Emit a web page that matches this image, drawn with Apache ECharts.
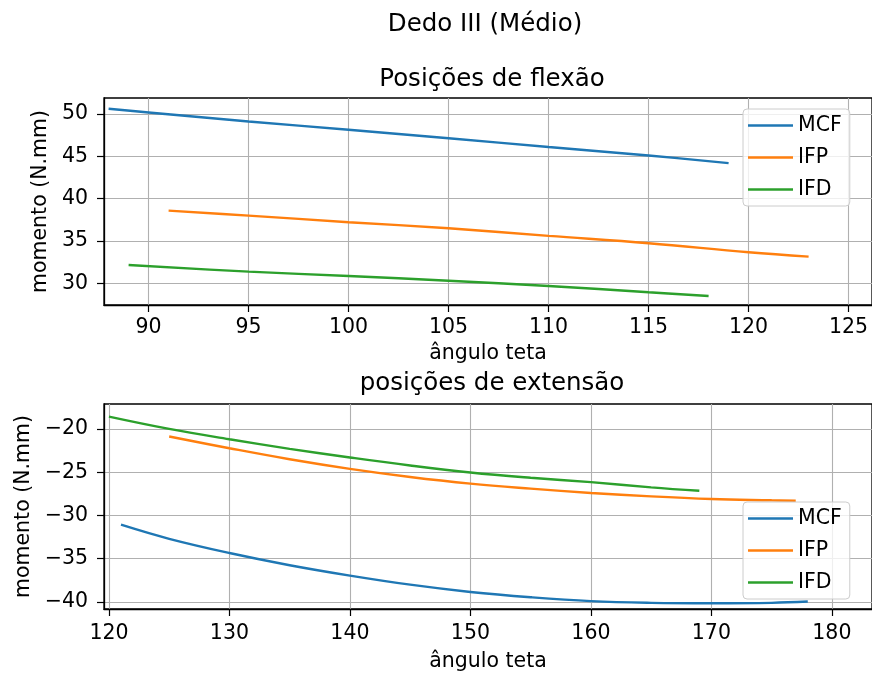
<!DOCTYPE html>
<html>
<head>
<meta charset="utf-8">
<script src="https://cdn.jsdelivr.net/npm/echarts@6/dist/echarts.min.js"></script>
<style>
html,body{margin:0;padding:0;background:#fff;}
#chart{width:872px;height:677px;}
</style>
</head>
<body>
<div id="chart"></div>
<script>
// ---- Data ----
const seriesNames = ['MCF', 'IFP', 'IFD'];

// Top: Posições de flexão
const flexMcfX = [88, 90, 95, 100, 105, 110, 115, 119];
const flexMcfY = [50.63, 50.19, 49.13, 48.14, 47.14, 46.1, 45.1, 44.2];
const flexIfpX = [91, 95, 100, 105, 110, 115, 120, 123];
const flexIfpY = [38.59, 38.0, 37.22, 36.5, 35.6, 34.73, 33.67, 33.15];
const flexIfdX = [89, 95, 100, 105, 110, 115, 118];
const flexIfdY = [32.16, 31.37, 30.86, 30.3, 29.68, 28.93, 28.5];

// Bottom: posições de extensão
const extMcfX = [121, 125, 130, 135, 140, 145, 150, 155, 160, 165, 170, 175, 178];
const extMcfY = [-31.07, -32.7, -34.34, -35.75, -36.95, -38.0, -38.84, -39.45, -39.9, -40.1, -40.15, -40.1, -39.95];
const extIfpX = [125, 130, 135, 140, 145, 150, 155, 160, 165, 170, 175, 177];
const extIfpY = [-20.88, -22.23, -23.5, -24.61, -25.55, -26.32, -26.9, -27.4, -27.8, -28.1, -28.25, -28.3];
const extIfdX = [120, 125, 130, 135, 140, 145, 150, 155, 160, 165, 169];
const extIfdY = [-18.58, -20.0, -21.19, -22.3, -23.3, -24.23, -25.04, -25.65, -26.15, -26.75, -27.15];

// Tick labels
const flexXTicks = [90, 95, 100, 105, 110, 115, 120, 125];
const flexYTicks = [30, 35, 40, 45, 50];
const extXTicks = [120, 130, 140, 150, 160, 170, 180];
const extYTicks = [-40, -35, -30, -25, -20];

// ---- Chart ----
const colors = ['#1f77b4', '#ff7f0e', '#2ca02c'];
const FONT = 'DejaVu Sans';
const TICK = 20.5;
const TITLE = 24.5;

function pairs(xs, ys) { return xs.map((x, i) => [x, ys[i]]); }
function fmt(v) { return String(v).replace('-', '\u2212'); }

function xAxis(gridIndex, min, max, ticks, margin) {
  return {
    type: 'value', gridIndex, min, max,
    name: 'ângulo teta', nameLocation: 'middle', nameGap: gridIndex === 0 ? 38 : 42,
    nameTextStyle: { fontFamily: FONT, fontSize: TICK, color: '#000' },
    axisLine: { show: true, onZero: false, lineStyle: { color: '#000', width: 1.3 } },
    axisTick: { show: true, inside: false, length: 7, customValues: ticks, lineStyle: { color: '#000', width: 1.2 } },
    axisLabel: { customValues: ticks, margin, fontFamily: FONT, fontSize: TICK, color: '#000', formatter: fmt },
    splitLine: { show: true, lineStyle: { color: '#b0b0b0', width: 1.1 } }
  };
}
function yAxis(gridIndex, min, max, ticks, nameGap) {
  return {
    type: 'value', gridIndex, min, max,
    name: 'momento (N.mm)', nameLocation: 'middle', nameGap, nameRotate: 90,
    nameTextStyle: { fontFamily: FONT, fontSize: TICK, color: '#000' },
    axisLine: { show: true, onZero: false, lineStyle: { color: '#000', width: 1.3 } },
    axisTick: { show: true, inside: false, length: 7, customValues: ticks, lineStyle: { color: '#000', width: 1.2 } },
    axisLabel: { customValues: ticks, margin: 16, fontFamily: FONT, fontSize: TICK, color: '#000', formatter: fmt },
    splitLine: { show: true, lineStyle: { color: '#b0b0b0', width: 1.1 } }
  };
}
function line(name, data, xi, yi) {
  return {
    type: 'line', name, data, xAxisIndex: xi, yAxisIndex: yi,
    symbol: 'none', smooth: 0.4, animation: false,
    lineStyle: { width: 2.4, color: colors[seriesNames.indexOf(name)] },
    itemStyle: { color: colors[seriesNames.indexOf(name)] }
  };
}
function legend(top) {
  return {
    left: 743, top, orient: 'vertical',
    data: seriesNames,
    icon: 'rect', itemWidth: 45, itemHeight: 2.6, itemGap: 11, itemTextGap: 17,
    padding: [6, 8, 6, 5],
    backgroundColor: 'rgba(255,255,255,0.8)', borderColor: '#cccccc', borderWidth: 1, borderRadius: 4,
    textStyle: { fontFamily: FONT, fontSize: TICK, color: '#000' }
  };
}

const chart = echarts.init(document.getElementById('chart'), null, { renderer: 'canvas' });
chart.setOption({
  animation: false,
  backgroundColor: '#fff',
  title: [
    { text: 'Dedo III (Médio)', left: 485, top: 12, textAlign: 'center', padding: 0,
      textStyle: { fontFamily: FONT, fontSize: TITLE, fontWeight: 'normal', color: '#000' } },
    { text: 'Posições de flexão', left: 492, top: 67, textAlign: 'center', padding: 0,
      textStyle: { fontFamily: FONT, fontSize: TITLE, fontWeight: 'normal', color: '#000' } },
    { text: 'posições de extensão', left: 492, top: 371, textAlign: 'center', padding: 0,
      textStyle: { fontFamily: FONT, fontSize: TITLE, fontWeight: 'normal', color: '#000' } }
  ],
  grid: [
    { left: 104, top: 98, width: 770, height: 207, show: true, borderColor: '#000', borderWidth: 1.3, backgroundColor: 'transparent' },
    { left: 104, top: 404, width: 770, height: 205, show: true, borderColor: '#000', borderWidth: 1.3, backgroundColor: 'transparent' }
  ],
  xAxis: [
    xAxis(0, 87.77, 126.17, flexXTicks, 12),
    xAxis(1, 119.59, 183.33, extXTicks, 14)
  ],
  yAxis: [
    yAxis(0, 27.43, 51.9, flexYTicks, 51),
    yAxis(1, -40.81, -17.12, extYTicks, 70)
  ],
  legend: [legend(109), legend(502)],
  series: [
    line('MCF', pairs(flexMcfX, flexMcfY), 0, 0),
    line('IFP', pairs(flexIfpX, flexIfpY), 0, 0),
    line('IFD', pairs(flexIfdX, flexIfdY), 0, 0),
    line('MCF', pairs(extMcfX, extMcfY), 1, 1),
    line('IFP', pairs(extIfpX, extIfpY), 1, 1),
    line('IFD', pairs(extIfdX, extIfdY), 1, 1)
  ]
});
</script>
</body>
</html>
